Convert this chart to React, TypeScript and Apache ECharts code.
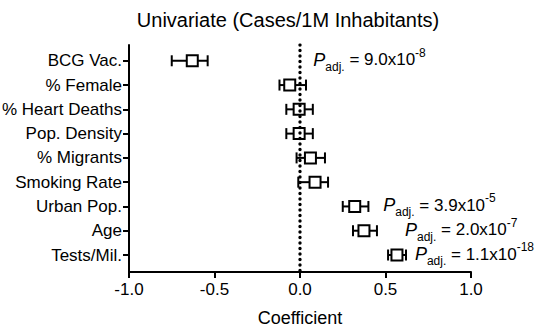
import React, { useEffect, useRef } from "react";
import * as echarts from "echarts";

// Predictors, top to bottom
const categories = [
  "BCG Vac.",
  "% Female",
  "% Heart Deaths",
  "Pop. Density",
  "% Migrants",
  "Smoking Rate",
  "Urban Pop.",
  "Age",
  "Tests/Mil.",
];

// Coefficient estimates and 95% confidence bounds
const estimates = [-0.63, -0.06, -0.005, -0.005, 0.061, 0.088, 0.32, 0.374, 0.567];
const ciLow = [-0.75, -0.12, -0.08, -0.08, -0.02, -0.01, 0.25, 0.31, 0.515];
const ciHigh = [-0.54, 0.035, 0.075, 0.075, 0.146, 0.164, 0.4, 0.45, 0.62];

// Adjusted p-value annotations
const pRows = [0, 6, 7, 8];
const pMantissa = ["9.0", "3.9", "2.0", "1.1"];
const pExponent = ["-8", "-5", "-7", "-18"];
const pLabelX = [0.078, 0.487, 0.614, 0.672];

const xTicks = [-1, -0.5, 0, 0.5, 1];

const FONT = "'Liberation Sans', Arial, Helvetica, sans-serif";

export default function App() {
  const ref = useRef<HTMLDivElement>(null);

  useEffect(() => {
    if (!ref.current) return;
    const chart = echarts.init(ref.current, null, { renderer: "svg" });

    const rowIdx = categories.map((_, i) => i);

    const option: any = {
      animation: false,
      backgroundColor: "#fff",
      title: {
        text: "Univariate (Cases/1M Inhabitants)",
        left: 288,
        top: 10,
        padding: 0,
        textAlign: "center",
        textStyle: {
          fontFamily: FONT,
          fontSize: 20,
          fontWeight: "normal",
          color: "#000",
        },
      },
      grid: {
        left: 129,
        right: 74,
        top: 45,
        bottom: 55,
        containLabel: false,
        outerBoundsMode: "none",
      },
      xAxis: {
        type: "value",
        min: -1,
        max: 1,
        interval: 0.5,
        name: "Coefficient",
        nameLocation: "middle",
        nameGap: 37,
        nameTextStyle: { fontFamily: FONT, fontSize: 18, color: "#000" },
        axisLine: { show: true, onZero: false, lineStyle: { color: "#000", width: 2 } },
        axisTick: {
          show: true,
          length: 6,
          lineStyle: { color: "#000", width: 2 },
          customValues: xTicks,
        },
        axisLabel: {
          fontFamily: FONT,
          fontSize: 17,
          color: "#000",
          margin: 9,
          customValues: xTicks,
          formatter: (v: number) => v.toFixed(1),
        },
        splitLine: { show: false },
      },
      yAxis: {
        type: "value",
        inverse: true,
        min: -0.65,
        max: 8.7,
        axisLine: { show: true, onZero: false, lineStyle: { color: "#000", width: 2 } },
        axisTick: {
          show: true,
          length: 6,
          lineStyle: { color: "#000", width: 2 },
          customValues: rowIdx,
        },
        axisLabel: {
          fontFamily: FONT,
          fontSize: 17,
          color: "#000",
          margin: 7,
          customValues: rowIdx,
          formatter: (v: number) => categories[Math.round(v)] ?? "",
        },
        splitLine: { show: false },
      },
      series: [
        {
          // whiskers + square marker per predictor
          type: "custom",
          z: 2,
          data: categories.map((_, i) => [i, ciLow[i], ciHigh[i], estimates[i]]),
          encode: { x: [1, 2, 3], y: 0 },
          renderItem: (_params: any, api: any) => {
            const i = api.value(0);
            const pLo = api.coord([api.value(1), i]);
            const pHi = api.coord([api.value(2), i]);
            const pE = api.coord([api.value(3), i]);
            const y = pE[1];
            const cap = 5.5;
            const box = 5.5;
            const line = { stroke: "#000", lineWidth: 2, fill: null };
            return {
              type: "group",
              children: [
                { type: "line", shape: { x1: pLo[0], y1: y, x2: pHi[0], y2: y }, style: line },
                { type: "line", shape: { x1: pLo[0], y1: y - cap, x2: pLo[0], y2: y + cap }, style: line },
                { type: "line", shape: { x1: pHi[0], y1: y - cap, x2: pHi[0], y2: y + cap }, style: line },
                {
                  type: "rect",
                  shape: { x: pE[0] - box, y: y - box, width: box * 2, height: box * 2 },
                  style: { fill: "#fff", stroke: "#000", lineWidth: 2 },
                },
              ],
            };
          },
        },
        {
          // dotted reference line at zero
          type: "line",
          z: 3,
          data: [
            [0, -0.65],
            [0, 8.7],
          ],
          symbol: "none",
          lineStyle: { color: "#000", width: 3.4, type: [0.1, 5.4], cap: "round" },
          silent: true,
        },
        {
          // adjusted p-value labels
          type: "custom",
          z: 4,
          data: pRows.map((r, k) => [pLabelX[k], r, k]),
          encode: { x: 0, y: 1 },
          renderItem: (_params: any, api: any) => {
            const k = api.value(2);
            const pt = api.coord([api.value(0), api.value(1)]);
            return {
              type: "text",
              x: pt[0],
              y: pt[1] - 1,
              style: {
                text: `{p|P}{sub|adj.}{eq| = ${pMantissa[k]}x10}{sup|${pExponent[k]}}`,
                align: "left",
                verticalAlign: "middle",
                fill: "#000",
                rich: {
                  p: {
                    fontFamily: FONT,
                    fontSize: 18,
                    fontStyle: "italic",
                    lineHeight: 26,
                    verticalAlign: "middle",
                    fill: "#000",
                  },
                  sub: {
                    fontFamily: FONT,
                    fontSize: 12,
                    lineHeight: 12,
                    verticalAlign: "bottom",
                    fill: "#000",
                  },
                  eq: {
                    fontFamily: FONT,
                    fontSize: 17,
                    lineHeight: 26,
                    verticalAlign: "middle",
                    fill: "#000",
                  },
                  sup: {
                    fontFamily: FONT,
                    fontSize: 12,
                    lineHeight: 16,
                    verticalAlign: "top",
                    fill: "#000",
                  },
                },
              },
            };
          },
        },
      ],
    };

    chart.setOption(option);
    return () => chart.dispose();
  }, []);

  return (
    <div
      ref={ref}
      style={{ position: "fixed", left: 0, top: 0, width: 545, height: 327 }}
    />
  );
}
